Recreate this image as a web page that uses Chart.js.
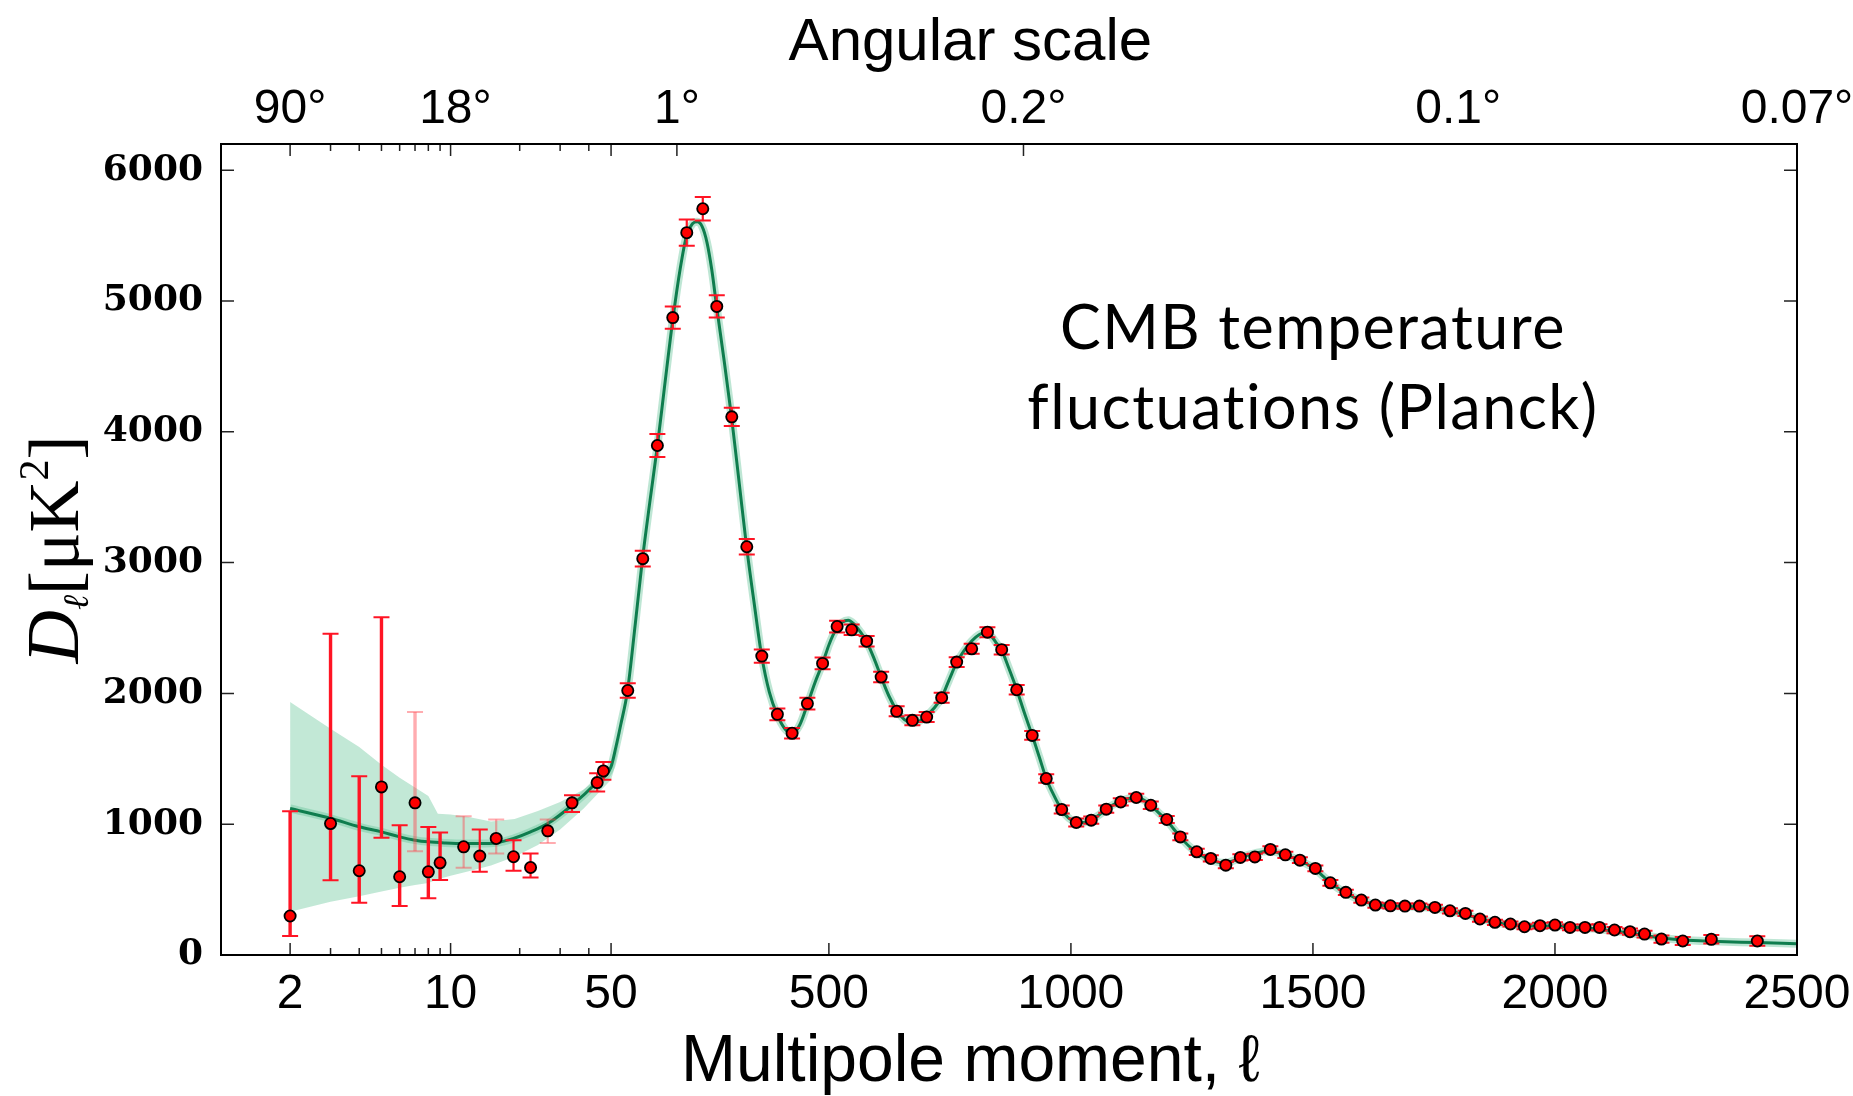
<!DOCTYPE html>
<html><head><meta charset="utf-8">
<script src="https://cdn.jsdelivr.net/npm/chart.js@4.4.1/dist/chart.umd.min.js"></script>
<style>html,body{margin:0;padding:0;background:#fff;overflow:hidden}</style>
</head><body>
<canvas id="c" width="1853" height="1096"></canvas>
<script>
// ---------------- data ----------------
const lowL = [2,3,4,5,6,7,8,9,11.4,13.4,15.8,18.8,22.3,26.5,33.8,43.5,46.3];
const lowD = [298,1005,644,1285,598,1163,636,705,827,756,891,751,669,949,1163,1318,1407];
const lowErrMinus = [153,433,245,389,224,369,203,132,160,120,115,107,76,92,69,68,67];
const lowErrPlus  = [801,1451,722,1298,394,694,343,232,234,203,145,127,107,87,58,72,68];

const highL = [84.5,115.5,145.7,177.5,206.4,239.5,268.4,299.4,330.4,361.4,393.6,424,455.6,487,517,547,578,608,640,672.5,702,733,764,795,827.5,857,888,920,949,981,1011,1042,1073,1103,1135,1165,1198,1226,1260,1289,1320,1350,1380,1412,1443,1473,1505,1536,1568,1600,1629,1660,1690,1720,1752,1783,1815,1845,1876,1908,1937,1969,2000,2031,2062,2092,2123,2155,2185,2220,2264,2323,2418];
const highD = [2022,3030,3895,4873,5522,5705,4958,4114,3121,2285,1840,1695,1922,2229,2511,2486,2399,2125,1863,1794,1819,1967,2239,2341,2468,2334,2028,1679,1349,1112,1013,1031,1115,1170,1204,1145,1036,903,789,738,687,746,750,807,766,725,662,552,479,420,382,376,374,374,364,338,318,275,250,237,216,224,229,211,211,211,191,178,160,122,107,120,107];
const highErr = [55,60,88,85,100,90,85,70,60,50,45,40,45,45,45,40,40,40,38,38,38,38,38,38,38,36,36,34,32,30,30,28,28,28,28,28,26,26,24,24,24,24,24,24,24,22,22,22,20,20,20,20,20,20,20,20,20,20,20,20,20,22,22,22,22,24,24,24,26,28,30,32,36];

const modelL = [2,3,4,5,6,7,8,9.4,11.4,13.4,15.8,18.8,22.3,26.5,33.8,43.5,50,60,70,84,100,115,130,146,160,178,193,206,218,228,238,248,258,268,283,299,315,330,346,361,377,394,409,424,440,456,471,487,501,515,528,540,552,565,578,593,608,624,640,656,672,688,702,718,733,748,764,780,795,811,823,835,847,857,872,888,904,920,935,949,965,981,996,1011,1026,1042,1058,1073,1088,1103,1118,1133,1148,1165,1182,1198,1212,1226,1243,1260,1275,1290,1305,1320,1335,1350,1366,1381,1396,1412,1428,1443,1458,1473,1490,1505,1520,1536,1552,1568,1584,1600,1615,1629,1645,1660,1690,1720,1752,1783,1815,1845,1876,1908,1937,1969,2000,2031,2062,2092,2123,2155,2185,2220,2264,2323,2418,2500];
const modelD = [1120,1045,980,941,903,878,865,857,852,852,857,891,941,1005,1145,1323,1440,1590,1760,2020,2530,3030,3460,3900,4330,4870,5250,5500,5590,5605,5570,5450,5240,4960,4560,4110,3600,3120,2680,2290,2010,1830,1730,1690,1760,1920,2080,2230,2380,2490,2545,2560,2530,2470,2395,2270,2125,1980,1870,1800,1775,1790,1830,1890,1970,2100,2235,2330,2400,2450,2465,2440,2380,2330,2190,2030,1850,1680,1510,1350,1220,1110,1045,1015,1012,1032,1070,1115,1150,1175,1195,1205,1190,1145,1085,1030,965,903,835,785,750,725,708,705,720,745,765,778,790,795,782,765,745,722,690,655,605,553,510,475,443,418,398,385,378,375,372,368,355,335,310,278,250,232,222,222,222,213,206,196,182,168,150,130,115,105,95,86];

const bandL  = [2,3,4,5,6,7,8,8.8,10,12,15,19,24,30,38,45,50,55,62,70];
const bandHi = [1934,1730,1590,1455,1355,1280,1215,1080,1075,1055,1020,1040,1100,1170,1265,1360,1430,1514,1640,1790];
const bandLo = [331,407,450,485,515,535,550,580,605,640,685,752,840,960,1120,1255,1340,1400,1520,1700];

const xMajorTicks = [2,10,50,500,1000,1500,2000,2500];
const xMinorTicks = [3,4,5,6,7,8,9,20,30,40];
const topTickL = [2,10.5,186,902,1800,2500];
const topTickLabels = ['90°','18°','1°','0.2°','0.1°','0.07°'];
const topMarkL = [186,902];
const yTickVals = [0,1000,2000,3000,4000,5000,6000];
const faintBars = [7,11.4,15.8,26.5];
const xTitle = 'Multipole moment, ℓ';
const topTitle = 'Angular scale';
const annoLines = ['CMB temperature','fluctuations (Planck)'];
const annoL = 1500;
const annoD = [4780,4175];

// ---------------- hybrid log/linear axis ----------------
const SPLIT = 50, LOGFRAC = 0.2475;
function hybridFrac(v, min, max){
  if (v <= SPLIT) return LOGFRAC * Math.log10(v/min) / Math.log10(SPLIT/min);
  return LOGFRAC + (1-LOGFRAC) * (v-SPLIT) / (max-SPLIT);
}
function hybridInv(f, min, max){
  if (f <= LOGFRAC) return min * Math.pow(SPLIT/min, f/LOGFRAC);
  return SPLIT + (f-LOGFRAC)/(1-LOGFRAC) * (max-SPLIT);
}
class HybridScale extends Chart.LinearScale {
  static id = 'hybrid';
  getPixelForValue(v){
    if (v === null || v === undefined || isNaN(v)) return NaN;
    return this.getPixelForDecimal(hybridFrac(v, this.min, this.max));
  }
  getValueForPixel(p){ return hybridInv(this.getDecimalForPixel(p), this.min, this.max); }
}
Chart.register(HybridScale);

const toXY = (xs, ys) => xs.map((x,i)=>({x, y: ys[i]}));
const allL = lowL.concat(highL);
const allD = lowD.concat(highD);
const allMinus = lowErrMinus.concat(highErr);
const allPlus = lowErrPlus.concat(highErr);

// ---------------- drawing helpers ----------------
function drawErrorBars(chart){
  const ctx = chart.ctx, xs = chart.scales.x, ys = chart.scales.y;
  ctx.save();
  ctx.lineCap = 'butt';
  for (let i=0;i<allL.length;i++){
    const px = xs.getPixelForValue(allL[i]);
    const yT = ys.getPixelForValue(allD[i]+allPlus[i]);
    const yB = ys.getPixelForValue(allD[i]-allMinus[i]);
    ctx.strokeStyle = faintBars.includes(allL[i]) ? 'rgba(255,70,80,0.45)' : '#ff1424';
    ctx.lineWidth = allL[i] < 10 ? 3.4 : 2.2;
    ctx.beginPath(); ctx.moveTo(px,yT); ctx.lineTo(px,yB); ctx.stroke();
    ctx.lineWidth = 2;
    const cw = 8;
    ctx.beginPath();
    ctx.moveTo(px-cw,yT); ctx.lineTo(px+cw,yT);
    ctx.moveTo(px-cw,yB); ctx.lineTo(px+cw,yB);
    ctx.stroke();
  }
  ctx.restore();
}
function drawFrameAndTicks(chart){
  const ctx = chart.ctx, a = chart.chartArea, xs = chart.scales.x, ys = chart.scales.y;
  ctx.save();
  ctx.strokeStyle = '#222'; ctx.lineWidth = 1.5;
  ctx.beginPath();
  const seg = (x1,y1,x2,y2)=>{ctx.moveTo(x1,y1);ctx.lineTo(x2,y2);};
  xMajorTicks.forEach(v=>{const x=xs.getPixelForValue(v); seg(x,a.bottom,x,a.bottom-12); if (v<=SPLIT) seg(x,a.top,x,a.top+12);});
  xMinorTicks.forEach(v=>{const x=xs.getPixelForValue(v); seg(x,a.bottom,x,a.bottom-7); seg(x,a.top,x,a.top+7);});
  topMarkL.forEach(v=>{const x=xs.getPixelForValue(v); seg(x,a.top,x,a.top+12);});
  yTickVals.forEach(v=>{const y=ys.getPixelForValue(v); seg(a.left,y,a.left+13,y); seg(a.right,y,a.right-13,y);});
  ctx.stroke();
  ctx.strokeStyle = '#000'; ctx.lineWidth = 2;
  ctx.strokeRect(a.left, a.top, a.right-a.left, a.bottom-a.top);
  ctx.restore();
}
function drawYTitle(chart){
  const ctx = chart.ctx, a = chart.chartArea;
  const parts = [
    {t:'D', f:'italic 74px "Liberation Serif"', dy:0},
    {t:'ℓ', f:'italic 36px "DejaVu Serif"', dy:10},
    {t:'[μK', f:'72px "Liberation Serif"', dy:0},
    {t:'2', f:'42px "Liberation Serif"', dy:-30},
    {t:']', f:'72px "Liberation Serif"', dy:0}
  ];
  ctx.save();
  let total = 0;
  parts.forEach(p=>{ctx.font=p.f; p.w=ctx.measureText(p.t).width; total+=p.w;});
  ctx.translate(78, (a.top+a.bottom)/2);
  ctx.rotate(-Math.PI/2);
  ctx.fillStyle = '#000'; ctx.textBaseline = 'alphabetic'; ctx.textAlign = 'left';
  let x = -total/2;
  parts.forEach(p=>{ctx.font=p.f; ctx.fillText(p.t, x, p.dy); x+=p.w;});
  ctx.restore();
}
function drawTitles(chart){
  const ctx = chart.ctx, a = chart.chartArea;
  const cx = a.left + 0.4755*(a.right-a.left);
  ctx.save();
  ctx.fillStyle = '#000'; ctx.textAlign = 'center'; ctx.textBaseline = 'middle';
  ctx.font = '66px "Liberation Sans"';
  ctx.fillText(xTitle, cx, a.bottom + 108);
  ctx.font = '60px "Liberation Sans"';
  ctx.fillText(topTitle, cx, a.top - 101);
  ctx.restore();
}
function drawAnnotation(chart){
  const ctx = chart.ctx, xs = chart.scales.x, ys = chart.scales.y;
  ctx.save();
  ctx.fillStyle = '#000'; ctx.font = '61px Lato'; ctx.textAlign = 'center'; ctx.textBaseline = 'middle';
  ctx.letterSpacing = '1.5px';
  annoLines.forEach((t,i)=> ctx.fillText(t, xs.getPixelForValue(annoL), ys.getPixelForValue(annoD[i])));
  ctx.restore();
}
const overlay = {
  id: 'overlay',
  beforeDraw(chart){ const c=chart.ctx; c.save(); c.fillStyle='#fff'; c.fillRect(0,0,chart.width,chart.height); c.restore(); },
  beforeDatasetDraw(chart, args){ if (args.index === 0) drawErrorBars(chart); },
  afterDatasetsDraw(chart){ drawFrameAndTicks(chart); },
  afterDraw(chart){ drawYTitle(chart); drawTitles(chart); drawAnnotation(chart); }
};

const tickFont = {family:'"Liberation Sans Narrow", "Liberation Sans", sans-serif', size:48, lineHeight:1};
const noPad = s => { s.paddingLeft = 0; s.paddingRight = 0; s.paddingTop = 0; s.paddingBottom = 0; };

new Chart(document.getElementById('c'), {
  type: 'line',
  data: { datasets: [
    { label:'Planck data', data: toXY(allL, allD), showLine:false, pointRadius:5.6, pointStyle:'circle',
      pointBackgroundColor:'#ff0000', pointBorderColor:'#000', pointBorderWidth:1.8, order:0 },
    { label:'model', data: toXY(modelL, modelD), borderColor:'#0f7d4e', borderWidth:3, pointRadius:0,
      cubicInterpolationMode:'monotone', fill:false, order:1 },
    { label:'halo', data: toXY(modelL, modelD), borderColor:'rgba(110,200,160,0.45)', borderWidth:8, pointRadius:0,
      cubicInterpolationMode:'monotone', fill:false, order:2 },
    { label:'band upper', data: toXY(bandL, bandHi), borderColor:'rgba(0,0,0,0)', borderWidth:0, pointRadius:0,
      tension:0, fill:'+1', backgroundColor:'rgba(120,205,165,0.45)', order:3 },
    { label:'band lower', data: toXY(bandL, bandLo), borderColor:'rgba(0,0,0,0)', borderWidth:0, pointRadius:0,
      tension:0, fill:false, order:4 }
  ]},
  options: {
    responsive:false, animation:false, devicePixelRatio:1,
    layout:{padding:0},
    plugins:{legend:{display:false}, tooltip:{enabled:false}},
    scales:{
      x:{ type:'hybrid', position:'bottom', min:1, max:2500, bounds:'data',
        afterBuildTicks: s => { s.ticks = xMajorTicks.map(v=>({value:v})); },
        ticks:{ callback: v => String(v), autoSkip:false, maxRotation:0, font:tickFont, color:'#000', padding:16 },
        grid:{display:false, drawTicks:false}, border:{display:false},
        afterFit: s => { noPad(s); s.height = 141; } },
      x2:{ type:'hybrid', position:'top', min:1, max:2500, bounds:'data',
        afterBuildTicks: s => { s.ticks = topTickL.map(v=>({value:v})); },
        ticks:{ callback: (v,i) => topTickLabels[i], autoSkip:false, maxRotation:0, font:tickFont, color:'#000', padding:10 },
        grid:{display:false, drawTicks:false}, border:{display:false},
        afterFit: s => { noPad(s); s.height = 144; } },
      y:{ type:'linear', position:'left', min:0, max:6200, bounds:'data',
        afterBuildTicks: s => { s.ticks = yTickVals.map(v=>({value:v})); },
        ticks:{ callback: v => String(v), font:{family:'"DejaVu Serif", serif', weight:'bold', size:36}, color:'#000', padding:18 },
        grid:{display:false, drawTicks:false}, border:{display:false},
        afterFit: s => { noPad(s); s.width = 221; } },
      y2:{ type:'linear', position:'right', min:0, max:6200, bounds:'data',
        ticks:{display:false}, grid:{display:false, drawTicks:false}, border:{display:false},
        afterFit: s => { noPad(s); s.width = 56; } }
    }
  },
  plugins:[overlay]
});
</script>
</body></html>
